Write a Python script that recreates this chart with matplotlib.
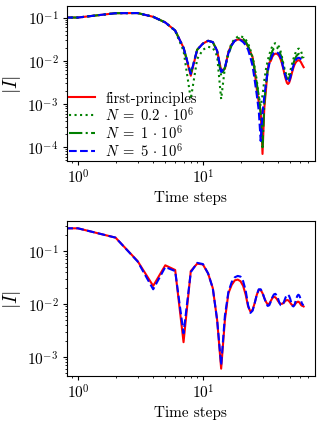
import numpy as np
import matplotlib
matplotlib.use('Agg')
import matplotlib.pyplot as plt

plt.rcParams['font.family'] = 'serif'
plt.rcParams['font.serif'] = ['cmr10']
plt.rcParams['mathtext.fontset'] = 'cm'
plt.rcParams['axes.formatter.use_mathtext'] = True
plt.rcParams['font.size'] = 11
plt.rcParams['xtick.major.size'] = 3
plt.rcParams['ytick.major.size'] = 3
plt.rcParams['xtick.minor.size'] = 1.7
plt.rcParams['ytick.minor.size'] = 1.7
plt.rcParams['xtick.major.pad'] = 1.8
plt.rcParams['xtick.minor.pad'] = 1.8
plt.rcParams['ytick.major.pad'] = 2.8
plt.rcParams['ytick.minor.pad'] = 2.8
plt.rcParams['axes.labelpad'] = 3

# time steps (step 0 is clipped on the log axis)
steps = np.arange(0, 65)

# top panel: |I| per time step
top_fp = [0.100, 0.100, 0.126, 0.127, 0.104, 0.077, 0.050, 0.020, 0.0045, 0.018,
          0.025, 0.029, 0.027, 0.017, 0.0060, 0.0065, 0.016, 0.024, 0.029, 0.031,
          0.031, 0.029, 0.026, 0.021, 0.016, 0.012, 0.0055, 0.0022, 0.0011, 0.0007,
          0.00007, 0.0008, 0.0022, 0.0065, 0.0090, 0.010, 0.0125, 0.014, 0.0146, 0.0145,
          0.0138, 0.0125, 0.0105, 0.0085, 0.0065, 0.0049, 0.0038, 0.0031, 0.0029, 0.0031,
          0.0037, 0.0046, 0.0057, 0.0069, 0.0080, 0.0089, 0.0096, 0.0100, 0.0103, 0.0103,
          0.0099, 0.0092, 0.0084, 0.0077, 0.0071]
top_n02 = [0.100, 0.100, 0.126, 0.127, 0.104, 0.077, 0.049, 0.017, 0.0013, 0.011,
           0.018, 0.021, 0.020, 0.013, 0.0013, 0.007, 0.016, 0.026, 0.032, 0.036,
           0.037, 0.035, 0.031, 0.025, 0.018, 0.012, 0.007, 0.0035, 0.0015, 0.0009,
           0.0016, 0.0035, 0.0065, 0.010, 0.014, 0.018, 0.022, 0.0245, 0.0255, 0.025,
           0.023, 0.020, 0.016, 0.012, 0.0088, 0.0065, 0.0052, 0.0046, 0.0045, 0.0049,
           0.0058, 0.0072, 0.0090, 0.011, 0.013, 0.015, 0.0168, 0.018, 0.019, 0.019,
           0.0182, 0.0165, 0.0145, 0.0128, 0.0115]
top_n1 = [0.100, 0.100, 0.126, 0.127, 0.104, 0.077, 0.050, 0.020, 0.0050, 0.018,
          0.025, 0.029, 0.027, 0.017, 0.0045, 0.0070, 0.014, 0.023, 0.030, 0.033,
          0.034, 0.032, 0.028, 0.022, 0.016, 0.011, 0.006, 0.003, 0.0015, 0.0006,
          0.0001, 0.0010, 0.003, 0.006, 0.0095, 0.013, 0.017, 0.0195, 0.021, 0.0205,
          0.019, 0.0165, 0.0135, 0.0105, 0.008, 0.006, 0.0047, 0.0040, 0.0038, 0.0040,
          0.0047, 0.0058, 0.0072, 0.0087, 0.0102, 0.0116, 0.0128, 0.0137, 0.0143, 0.0145,
          0.0142, 0.0133, 0.0122, 0.0112, 0.0105]
top_n5 = [0.100, 0.100, 0.126, 0.127, 0.104, 0.077, 0.050, 0.020, 0.0050, 0.018,
          0.025, 0.029, 0.027, 0.017, 0.0055, 0.0070, 0.015, 0.023, 0.029, 0.031,
          0.030, 0.027, 0.023, 0.018, 0.012, 0.0075, 0.0035, 0.0016, 0.0007, 0.00014,
          0.0006, 0.0015, 0.003, 0.0055, 0.0085, 0.011, 0.0135, 0.0152, 0.016, 0.0158,
          0.015, 0.0135, 0.0115, 0.009, 0.0069, 0.0053, 0.0042, 0.0035, 0.0032, 0.0034,
          0.0040, 0.0050, 0.0063, 0.0077, 0.0090, 0.0101, 0.0109, 0.0114, 0.0117, 0.0117,
          0.0114, 0.0108, 0.0102, 0.0097, 0.0094]

# bottom panel
bot_fp = [0.27, 0.27, 0.18, 0.065, 0.022, 0.054, 0.044, 0.0019, 0.042, 0.058,
          0.056, 0.038, 0.020, 0.005, 0.0006, 0.005, 0.016, 0.023, 0.028, 0.029,
          0.027, 0.022, 0.015, 0.009, 0.0072, 0.0078, 0.0105, 0.015, 0.0185, 0.0185,
          0.016, 0.013, 0.011, 0.0098, 0.0102, 0.0115, 0.013, 0.0137, 0.0134, 0.0125,
          0.0113, 0.0105, 0.0101, 0.0101, 0.0104, 0.0110, 0.0116, 0.0119, 0.0118, 0.0113,
          0.0106, 0.0099, 0.0095, 0.0094, 0.0096, 0.0101, 0.0106, 0.0110, 0.0111, 0.0108,
          0.0102, 0.0096, 0.0093, 0.0092, 0.0090]
bot_n5 = [0.27, 0.27, 0.18, 0.064, 0.019, 0.050, 0.042, 0.0028, 0.040, 0.060,
          0.057, 0.038, 0.020, 0.005, 0.0007, 0.006, 0.017, 0.026, 0.032, 0.034,
          0.033, 0.027, 0.018, 0.0095, 0.0068, 0.0075, 0.0105, 0.015, 0.019, 0.019,
          0.0165, 0.013, 0.0105, 0.0092, 0.0095, 0.0112, 0.0135, 0.0152, 0.0156, 0.0145,
          0.0125, 0.0105, 0.0095, 0.0094, 0.0102, 0.0118, 0.0135, 0.0148, 0.0150, 0.0142,
          0.0125, 0.0105, 0.0093, 0.0090, 0.0095, 0.0110, 0.0128, 0.0143, 0.0150, 0.0146,
          0.0132, 0.0115, 0.0103, 0.0097, 0.0095]

labels = ['first-principles',
          r'$N \;=\; 0.2 \,\cdot\, 10^6$',
          r'$N \;=\; 1 \,\cdot\, 10^6$',
          r'$N \;=\; 5 \,\cdot\, 10^6$']

fig = plt.figure(figsize=(3.22, 4.27), dpi=100)
ax1 = fig.add_axes([0.207, 0.6206, 0.771, 0.363])
ax2 = fig.add_axes([0.207, 0.1178, 0.771, 0.3616])

ax1.plot(steps, top_fp, 'r-', lw=1.5, label=labels[0])
ax1.plot(steps, top_n02, 'g:', lw=1.5, label=labels[1])
ax1.plot(steps, top_n1, 'g-.', lw=1.5, label=labels[2])
ax1.plot(steps, top_n5, 'b--', lw=1.5, label=labels[3])
ax1.set_xscale('log')
ax1.set_yscale('log')
ax1.set_xlabel('Time steps')
ax1.set_ylabel(r'$|I|$', fontsize=14)
ax1.legend(loc='lower left', frameon=False, fontsize=10.5, labelspacing=0.0,
           handlelength=1.8, handletextpad=0.7, borderaxespad=0.1, borderpad=0.05)

ax2.plot(steps, bot_fp, 'r-', lw=1.5)
ax2.plot(steps, bot_n5, 'b--', lw=1.5)
ax2.set_xscale('log')
ax2.set_yscale('log')
ax2.set_xlabel('Time steps')
ax2.set_ylabel(r'$|I|$', fontsize=14)

fig.savefig('out.png', dpi=100)
